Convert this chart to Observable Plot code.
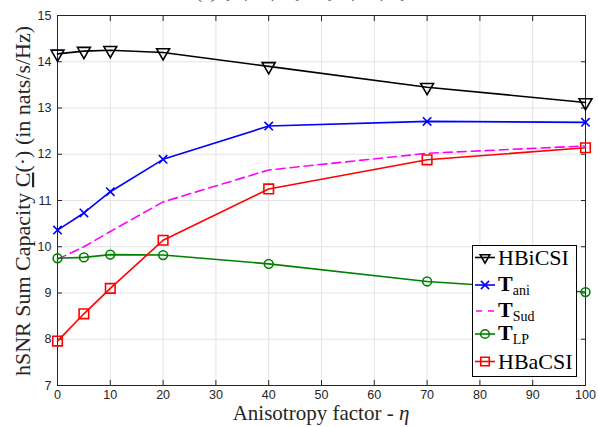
<!DOCTYPE html>
<html><head><meta charset="utf-8">
<script src="https://cdn.jsdelivr.net/npm/d3@7"></script>
<script src="https://cdn.jsdelivr.net/npm/@observablehq/plot@0.6"></script>
<style>
body{margin:0;background:#fff}
#chart{position:relative;width:598px;height:427px;overflow:hidden}
</style>
</head><body><div id="chart"></div>
<script>
// ---- data ----
const eta    = [0, 5, 10, 20, 40, 70, 100];
const HBiCSI = [14.17, 14.23, 14.25, 14.20, 13.90, 13.45, 13.12];
const Tani   = [10.36, 10.73, 11.19, 11.89, 12.61, 12.71, 12.69];
const TSud   = [9.73, 10.00, 10.33, 10.97, 11.66, 12.02, 12.18];
const TLP    = [9.75, 9.77, 9.83, 9.82, 9.63, 9.25, 9.02];
const HBaCSI = [7.96, 8.55, 9.10, 10.14, 11.25, 11.88, 12.14];
const xTicks = [0, 10, 20, 30, 40, 50, 60, 70, 80, 90, 100];
const yTicks = [7, 8, 9, 10, 11, 12, 13, 14, 15];
const titleText = "(a) {N, M, K} = {64, 16, 4}";
const xLabel = "Anisotropy factor - ";
const legendNames = ["HBiCSI", "ani", "Sud", "LP", "HBaCSI"];

const serif = "'Liberation Serif', 'Times New Roman', serif";
const axisColor = "#262626";
const gridColor = "#e3e3e3";
const lw = 1.6;

const plot = Plot.plot({
  width: 598, height: 427,
  marginLeft: 57, marginRight: 13, marginTop: 15, marginBottom: 42,
  style: {fontFamily: "'Liberation Sans', Arial, sans-serif", fontSize: "12.5px", color: axisColor, background: "#fff", overflow: "visible"},
  x: {domain: [0, 100]},
  y: {domain: [7, 15]},
  marks: [
    Plot.gridX(xTicks, {stroke: gridColor, strokeOpacity: 1}),
    Plot.gridY(yTicks, {stroke: gridColor, strokeOpacity: 1}),
    Plot.axisX(xTicks, {anchor: "bottom", tickSize: 0, tickPadding: 5, label: null}),
    Plot.axisY(yTicks, {anchor: "left", tickSize: 0, tickPadding: 6, label: null}),
    Plot.axisX(xTicks, {anchor: "bottom", tickSize: 5, dy: -5, text: null, label: null, stroke: axisColor}),
    Plot.axisX(xTicks, {anchor: "top", tickSize: 5, dy: 5, text: null, label: null, stroke: axisColor}),
    Plot.axisY(yTicks, {anchor: "left", tickSize: 5, dx: 5, text: null, label: null, stroke: axisColor}),
    Plot.axisY(yTicks, {anchor: "right", tickSize: 5, dx: -5, text: null, label: null, stroke: axisColor}),
    Plot.frame({stroke: axisColor, strokeWidth: 1}),
    // lines
    Plot.line(eta, {x: eta, y: HBiCSI, stroke: "#000000", strokeWidth: lw}),
    Plot.line(eta, {x: eta, y: Tani, stroke: "#0000ff", strokeWidth: lw}),
    Plot.line(eta, {x: eta, y: TSud, stroke: "#ff00ff", strokeWidth: lw, strokeDasharray: "9,5"}),
    Plot.line(eta, {x: eta, y: TLP, stroke: "#008000", strokeWidth: lw}),
    Plot.line(eta, {x: eta, y: HBaCSI, stroke: "#ff0000", strokeWidth: lw}),
    // markers
    Plot.dot(eta, {x: eta, y: HBiCSI, symbol: "triangle", rotate: 180, r: 4.8, stroke: "#000000", fill: "none", strokeWidth: lw}),
    Plot.dot(eta, {x: eta, y: Tani, symbol: "times", r: 3.9, stroke: "#0000ff", fill: "none", strokeWidth: lw}),
    Plot.dot(eta, {x: eta, y: TLP, symbol: "circle", r: 4.4, stroke: "#008000", fill: "none", strokeWidth: lw}),
    Plot.dot(eta, {x: eta, y: HBaCSI, symbol: "square", r: 5.4, stroke: "#ff0000", fill: "none", strokeWidth: lw})
  ]
});
document.getElementById("chart").appendChild(plot);

const svg = d3.select(plot);

// clipped title at the very top (cut off in the reference)
svg.append("text").attr("x", 302).attr("y", -2).attr("text-anchor", "middle")
  .attr("font-family", serif).attr("font-size", 19).attr("fill", axisColor).text(titleText);

// x label
const xl = svg.append("text").attr("x", 321).attr("y", 420).attr("text-anchor", "middle")
  .attr("font-family", serif).attr("font-size", 21).attr("fill", axisColor);
xl.append("tspan").text(xLabel);
xl.append("tspan").attr("font-style", "italic").text("η");

// y label
const yl = svg.append("text").attr("transform", "translate(30,201) rotate(-90)")
  .attr("text-anchor", "middle").attr("font-family", serif).attr("font-size", 22).attr("fill", axisColor);
yl.append("tspan").text("hSNR Sum Capacity ");
yl.append("tspan").attr("text-decoration", "underline").text("C");
yl.append("tspan").text("(·) (in nats/s/Hz)");

// legend
const lg = svg.append("g");
lg.append("rect").attr("x", 472.5).attr("y", 245.5).attr("width", 104).attr("height", 131)
  .attr("fill", "#fff").attr("stroke", "#000").attr("stroke-width", 1);
const entries = [
  {name: legendNames[0], color: "#000000", sym: "tri", ly: 257.5, by: 265, bold: false},
  {name: legendNames[1], color: "#0000ff", sym: "x", ly: 285, by: 291, bold: true},
  {name: legendNames[2], color: "#ff00ff", sym: "dash", ly: 311, by: 317, bold: true},
  {name: legendNames[3], color: "#008000", sym: "circle", ly: 334, by: 340, bold: true},
  {name: legendNames[4], color: "#ff0000", sym: "square", ly: 361.5, by: 369, bold: false}
];
for (const e of entries) {
  const line = lg.append("line").attr("x1", 475).attr("x2", 495).attr("y1", e.ly).attr("y2", e.ly)
    .attr("stroke", e.color).attr("stroke-width", lw);
  if (e.sym === "dash") line.attr("stroke-dasharray", "6,6").attr("x1", 476);
  const g = lg.append("g").attr("transform", `translate(485,${e.ly})`);
  if (e.sym === "tri") g.append("path").attr("d", d3.symbol(d3.symbolTriangle2, Math.PI * 4.6 * 4.6)()).attr("transform", "rotate(180)");
  if (e.sym === "x") g.append("path").attr("d", d3.symbol(d3.symbolTimes, Math.PI * 3.8 * 3.8)());
  if (e.sym === "circle") g.append("circle").attr("r", 4.3);
  if (e.sym === "square") g.append("path").attr("d", d3.symbol(d3.symbolSquare2, Math.PI * 5.4 * 5.4)());
  g.selectAll("path,circle").attr("fill", "none").attr("stroke", e.color).attr("stroke-width", lw);
  const t = lg.append("text").attr("x", 498).attr("y", e.by).attr("text-anchor", "start")
    .attr("font-family", serif).attr("font-size", 22).attr("fill", "#000");
  if (e.bold) {
    t.append("tspan").attr("font-weight", "bold").text("T");
    t.append("tspan").attr("font-size", 14).attr("dy", 4).text(e.name);
  } else {
    t.text(e.name);
  }
}
</script>
</body></html>
